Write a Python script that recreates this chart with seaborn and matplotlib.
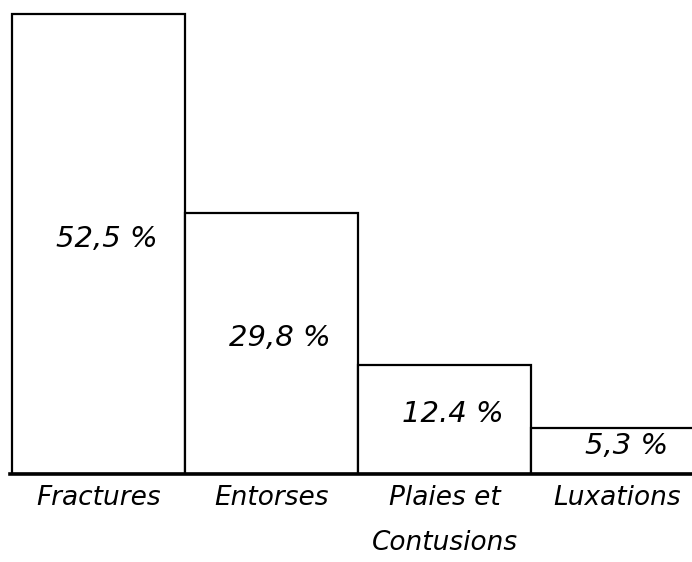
import matplotlib

matplotlib.use("Agg")

import matplotlib.pyplot as plt
import seaborn as sns

categories = ["Fractures", "Entorses", "Plaies et\nContusions", "Luxations"]
values = [52.5, 29.8, 12.4, 5.3]
value_labels = ["52,5 %", "29,8 %", "12.4 %", "5,3 %"]

FONT = ["DejaVu Sans"]

sns.set_theme(style="white")
plt.rcParams["font.family"] = FONT
plt.rcParams["text.color"] = "black"

fig = plt.figure(figsize=(6.92, 5.62), dpi=100)
ax = fig.add_axes([10 / 692, 88 / 562, 682 / 692, 474 / 562])

sns.barplot(
    x=categories,
    y=values,
    color="white",
    edgecolor="black",
    linewidth=1.6,
    width=1.0,
    ax=ax,
)
for patch in ax.patches:
    patch.set_facecolor("white")

ax.set_xlim(-0.5 - 2 / 173, -0.5 + 680 / 173)
ax.set_ylim(0, 52.5 * 474 / 460)

for i, (v, lab) in enumerate(zip(values, value_labels)):
    ax.text(i + 0.05, v * 0.5 + 0.6, lab, ha="center", va="center",
            fontsize=21, style="italic", color="black")

for side in ["top", "right", "left"]:
    ax.spines[side].set_visible(False)
ax.spines["bottom"].set_linewidth(2.6)
ax.spines["bottom"].set_color("black")

ax.set_yticks([])
ax.tick_params(axis="x", length=0, pad=8, colors="black")
ax.set_xticks(range(len(categories)))
ax.set_xticklabels(categories, fontsize=19, style="italic", va="top",
                   linespacing=1.95)
ax.set_xlabel("")
ax.set_ylabel("")

fig.savefig("out.png", dpi=100)
